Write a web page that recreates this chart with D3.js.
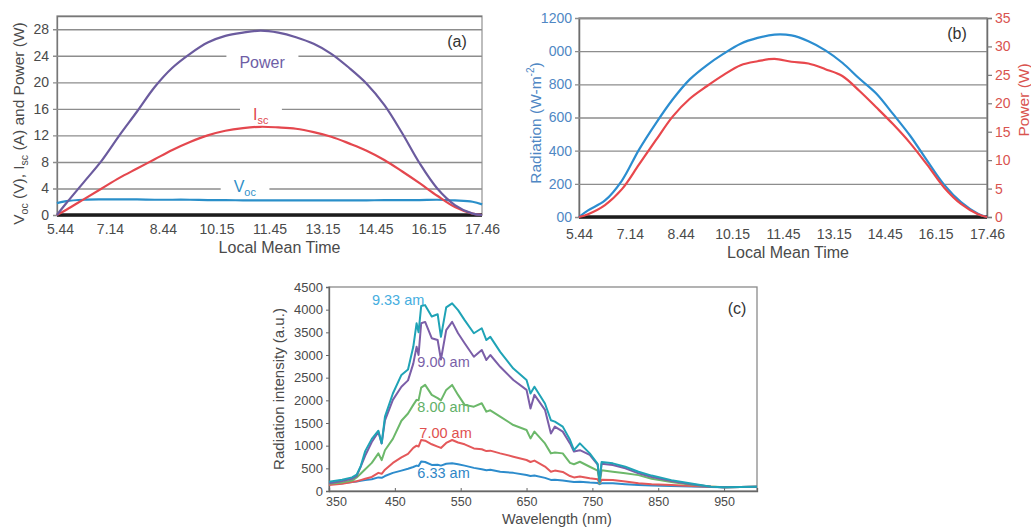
<!DOCTYPE html>
<html><head><meta charset="utf-8">
<script src="https://cdn.jsdelivr.net/npm/d3@7"></script>
<style>
body{margin:0;background:#fff}
svg{display:block}
text{font-family:"Liberation Sans",Arial,Helvetica,sans-serif}
</style>
</head><body>
<svg id="chart" width="1031" height="527"></svg>
<script>
// ---------- DATA ----------
const timeTickLabels = ["5.44","7.14","8.44","10.15","11.45","13.15","14.45","16.15","17.46"];
const timeHours = [5.73,6.0,6.5,7.0,7.5,8.0,8.5,9.0,9.5,10.0,10.5,11.0,11.5,12.0,12.5,13.0,13.5,14.0,14.5,15.0,15.5,16.0,16.5,17.0,17.5,17.77];
// panel (a)
const powerA = [0,1.8,5.0,8.2,12.0,15.6,19.3,22.2,24.3,26.0,27.0,27.5,27.8,27.5,26.8,25.8,24.3,22.2,19.8,16.6,12.4,7.8,4.0,1.5,0.2,0];
const iscA   = [0,0.8,2.4,4.0,5.6,7.0,8.4,9.8,11.0,12.0,12.7,13.1,13.3,13.2,13.0,12.5,11.8,10.8,9.7,8.3,6.6,4.8,2.9,1.2,0.2,0];
const vocA   = [1.8,2.1,2.3,2.35,2.35,2.35,2.3,2.3,2.3,2.25,2.25,2.2,2.2,2.2,2.2,2.2,2.2,2.2,2.2,2.25,2.25,2.25,2.3,2.2,2.0,1.6];
const aTicks = [0,4,8,12,16,20,24,28];
// panel (b)
const radiationB = [0,40,100,220,405,565,710,830,915,985,1045,1080,1100,1095,1060,1005,930,835,745,620,490,340,195,90,20,0];
const powerB     = [0,0.5,2.1,4.9,9.2,13.5,17.7,20.8,23.0,25.0,26.7,27.4,27.8,27.3,27.0,26.0,24.8,22.2,19.3,16.3,13.0,9.2,5.2,2.3,0.5,0];
const bLeftTicks = [0,200,400,600,800,1000,1200];
const bLeftTickLabels = ["00","200","400","600","800","000","1200"];
const bRightTicks = [0,5,10,15,20,25,30,35];
// panel (c)
const wavelengths = [350,370,385,392,398,405,415,425,430,435,447,460,470,478,483,486,490,496,506,515,520,528,537,546,556,570,582,589,595,610,630,650,656,662,678,687,693,705,716,722,731,746,758,761,764,781,800,820,840,870,900,930,950,1000];
const spec933 = [205,250,300,360,540,880,1150,1330,1050,1640,2150,2560,2680,3180,3700,3500,4080,4100,3850,3900,3400,4050,4140,3990,3770,3480,3590,3330,3400,3070,2700,2450,2150,2300,1930,1560,1530,1420,1130,900,1050,830,600,210,640,610,535,425,340,240,165,95,80,95];
const spec900 = [170,220,270,330,530,780,1080,1300,1050,1560,2010,2300,2440,2810,3180,3000,3700,3730,3370,3330,2900,3550,3730,3480,3260,2960,3110,2890,3000,2740,2450,2230,1820,2120,1790,1270,1420,1310,1050,870,900,795,580,205,600,575,500,390,310,220,150,95,80,95];
const spec800 = [160,190,230,300,380,480,620,830,680,900,1150,1550,1710,1900,2010,2000,2280,2340,2120,2050,2000,2230,2340,2120,1900,1860,1935,1750,1780,1640,1455,1345,1160,1310,1050,830,850,830,620,590,645,535,450,170,460,425,390,350,270,200,140,100,85,95];
const spec700 = [132,160,200,215,240,270,310,400,380,470,620,740,820,950,1000,980,1125,1110,1030,980,950,1060,1125,1070,1030,940,920,880,890,830,757,684,640,670,540,425,450,420,330,300,320,280,260,170,250,243,210,170,150,130,110,95,85,95];
const spec633 = [150,170,200,210,225,240,260,300,290,330,400,450,490,530,560,550,650,640,575,580,560,600,610,590,560,510,480,460,470,425,400,353,330,340,290,245,250,230,210,200,205,185,175,150,170,170,150,132,120,110,100,90,85,95];
const cTicksY = [0,500,1000,1500,2000,2500,3000,3500,4000,4500];
const cTicksX = [350,450,550,650,750,850,950];
const specNames = ["6.33 am","7.00 am","8.00 am","9.00 am","9.33 am"];

// ---------- HELPERS ----------
const svg = d3.select("#chart");
const hm = s => { const [h,m] = s.split("."); return +h + (+m)/60; };
const tickHours = timeTickLabels.map(hm);
const GRID = "#8d8d8d", FRAME = "#9a9a9a", TXT = "#4a4a4a";

function styleAxisText(g, size, color){
  g.selectAll("text").attr("font-size", size).attr("fill", color);
}
function addShifted(sel, parts, offset, scale){
  let cur = 0;
  parts.forEach(p=>{
    const target = p[1] ? offset : 0;
    const ts = sel.append("tspan").text(p[0]);
    if(target !== cur) ts.attr("dy", target - cur);
    if(p[1]) ts.attr("font-size", scale + "em");
    cur = target;
  });
}

// ---------- PANEL A ----------
{
  const A = {l:57, r:482, t:16, b:215};
  const x = d3.scaleLinear().domain([hm("5.44"), hm("17.46")]).range([A.l, A.r]);
  const y = d3.scaleLinear().domain([0,30]).range([A.b, A.t]);
  const g = svg.append("g");
  g.append("rect").attr("x",A.l).attr("y",A.t).attr("width",A.r-A.l).attr("height",A.b-A.t)
    .attr("fill","none").attr("stroke",FRAME).attr("stroke-width",1.3);
  const ya = g.append("g").attr("transform",`translate(${A.l},0)`)
    .call(d3.axisLeft(y).tickValues(aTicks).tickSize(-(A.r-A.l)).tickPadding(8));
  ya.select(".domain").attr("stroke","#777").attr("stroke-width",1.3);
  ya.selectAll(".tick line").attr("x1",-4).attr("stroke",GRID).attr("stroke-width",1.4);
  styleAxisText(ya, 14, TXT);
  const xa = g.append("g").attr("transform",`translate(0,${A.b})`)
    .call(d3.axisBottom(x).tickValues(tickHours).tickFormat((d,i)=>timeTickLabels[i]).tickSize(0).tickPadding(9));
  xa.select(".domain").remove();
  styleAxisText(xa, 14, TXT);
  xa.selectAll("text").attr("dx",(d,i)=> i===0 ? 3 : 0);
  const labels = [
    {t:[["Power"]], h:11.54, v:22.1, c:"#6e5ea6"},
    {t:[["I"],["sc",1]], h:11.5, v:14.3, c:"#e0474f"},
    {t:[["V"],["oc",1]], h:11.05, v:3.47, c:"#2f8fc8"}
  ];
  labels.forEach(L=>{
    const tg = g.append("g");
    const tx = tg.append("text").attr("x",x(L.h)).attr("y",y(L.v)).attr("text-anchor","middle")
      .attr("font-size",16).attr("fill",L.c);
    addShifted(tx, L.t, 4, 0.68);
    const bb = tx.node().getBBox();
    tg.insert("rect","text").attr("x",bb.x-13).attr("y",bb.y-2).attr("width",bb.width+26).attr("height",bb.height+2).attr("fill","#fff");
  });
  g.append("line").attr("x1",A.l).attr("x2",A.r).attr("y1",y(0)).attr("y2",y(0)).attr("stroke","#1c1c1c").attr("stroke-width",3.5);
  const line = arr => d3.line().x((d,i)=>x(timeHours[i])).y(d=>y(d)).curve(d3.curveCatmullRom)(arr);
  [[vocA,"#2a8fc9"],[iscA,"#e4474e"],[powerA,"#6b5b9e"]].forEach(([arr,c])=>{
    g.append("path").attr("d",line(arr)).attr("fill","none").attr("stroke",c).attr("stroke-width",2.2);
  });
  g.append("text").attr("x",A.r-25).attr("y",A.t+31).attr("text-anchor","middle").attr("font-size",16).attr("fill","#333").text("(a)");
  g.append("text").attr("x",(A.l+A.r)/2+10).attr("y",253).attr("text-anchor","middle").attr("font-size",16).attr("fill",TXT).text("Local Mean Time");
  const yt = g.append("text").attr("transform",`translate(24,${(A.t+A.b)/2+8}) rotate(-90)`).attr("text-anchor","middle")
    .attr("font-size",15.5).attr("fill",TXT);
  addShifted(yt, [["V"],["oc",1],[" (V), I"],["sc",1],[" (A) and Power (W)"]], 4, 0.68);
}

// ---------- PANEL B ----------
{
  const B = {l:579, r:987, t:18, b:217};
  const x = d3.scaleLinear().domain([hm("5.44"), hm("17.46")]).range([B.l, B.r]);
  const yL = d3.scaleLinear().domain([0,1200]).range([B.b, B.t]);
  const yR = d3.scaleLinear().domain([0,35]).range([B.b, B.t]);
  const g = svg.append("g");
  g.append("rect").attr("x",B.l).attr("y",B.t).attr("width",B.r-B.l).attr("height",B.b-B.t)
    .attr("fill","none").attr("stroke",FRAME).attr("stroke-width",1.3);
  const ya = g.append("g").attr("transform",`translate(${B.l},0)`)
    .call(d3.axisLeft(yL).tickValues(bLeftTicks).tickFormat((d,i)=>bLeftTickLabels[i]).tickSize(-(B.r-B.l)).tickPadding(7));
  ya.select(".domain").attr("stroke","#6e6e6e").attr("stroke-width",1.5);
  ya.selectAll(".tick line").attr("x1",-4).attr("stroke",GRID).attr("stroke-width",1.4);
  styleAxisText(ya, 14, "#4f87c4");
  const yra = g.append("g").attr("transform",`translate(${B.r},0)`)
    .call(d3.axisRight(yR).tickValues(bRightTicks).tickSize(5).tickPadding(3));
  yra.select(".domain").attr("stroke","#6e6e6e").attr("stroke-width",1.5);
  yra.selectAll(".tick line").attr("stroke","#777").attr("stroke-width",1.2);
  styleAxisText(yra, 14, "#d9534f");
  const xa = g.append("g").attr("transform",`translate(0,${B.b})`)
    .call(d3.axisBottom(x).tickValues(tickHours).tickFormat((d,i)=>timeTickLabels[i]).tickSize(0).tickPadding(12));
  xa.select(".domain").remove();
  styleAxisText(xa, 14, TXT);
  g.append("line").attr("x1",B.l).attr("x2",B.r).attr("y1",B.b).attr("y2",B.b).attr("stroke","#1c1c1c").attr("stroke-width",3.5);
  const lineL = d3.line().x((d,i)=>x(timeHours[i])).y(d=>yL(d)).curve(d3.curveCatmullRom);
  const lineR = d3.line().x((d,i)=>x(timeHours[i])).y(d=>yR(d)).curve(d3.curveCatmullRom);
  g.append("path").attr("d",lineL(radiationB)).attr("fill","none").attr("stroke","#2b8dd0").attr("stroke-width",2.2);
  g.append("path").attr("d",lineR(powerB)).attr("fill","none").attr("stroke","#e8474c").attr("stroke-width",2.2);
  g.append("text").attr("x",B.r-30).attr("y",B.t+21).attr("text-anchor","middle").attr("font-size",16).attr("fill","#333").text("(b)");
  g.append("text").attr("x",(B.l+B.r)/2+5).attr("y",258).attr("text-anchor","middle").attr("font-size",16).attr("fill",TXT).text("Local Mean Time");
  const yt = g.append("text").attr("transform",`translate(541,123) rotate(-90)`).attr("text-anchor","middle")
    .attr("font-size",15.5).attr("fill","#4f87c4");
  addShifted(yt, [["Radiation (W-m"],["-2",1],[")"]], -7, 0.65);
  g.append("text").attr("transform",`translate(1029,100) rotate(-90)`).attr("text-anchor","middle")
    .attr("font-size",15.5).attr("fill","#d9534f").text("Power (W)");
}

// ---------- PANEL C ----------
{
  const C = {l:329, r:757, t:287, b:491};
  const x = d3.scaleLinear().domain([350,1000]).range([C.l, C.r]);
  const y = d3.scaleLinear().domain([0,4500]).range([C.b, C.t]);
  const g = svg.append("g");
  g.append("rect").attr("x",C.l).attr("y",C.t).attr("width",C.r-C.l).attr("height",C.b-C.t)
    .attr("fill","none").attr("stroke","#8a8a8a").attr("stroke-width",1.3);
  const ya = g.append("g").attr("transform",`translate(${C.l},0)`)
    .call(d3.axisLeft(y).tickValues(cTicksY).tickFormat(d3.format("d")).tickSize(3).tickPadding(3));
  ya.select(".domain").attr("stroke","#666").attr("stroke-width",1.3);
  ya.selectAll(".tick line").attr("stroke","#666");
  styleAxisText(ya, 13, TXT);
  const xa = g.append("g").attr("transform",`translate(0,${C.b})`)
    .call(d3.axisBottom(x).tickValues(cTicksX).tickFormat(d3.format("d")).tickSize(-3).tickPadding(6));
  xa.select(".domain").attr("stroke","#666").attr("stroke-width",1.3);
  xa.selectAll(".tick line").attr("stroke","#666");
  styleAxisText(xa, 12.5, TXT);
  xa.selectAll("text").attr("dx",(d,i)=> i===0 ? 7 : 0);
  const specLabels = [
    {n:0, w:524, v:397, c:"#2f86c6"},
    {n:1, w:527, v:1280, c:"#e0504f"},
    {n:2, w:524, v:1860, c:"#62b067"},
    {n:3, w:524, v:2852, c:"#7a5fa8"},
    {n:4, w:455, v:4213, c:"#45aee0"}
  ];
  specLabels.forEach(L=>{
    g.append("text").attr("x",x(L.w)).attr("y",y(L.v)).attr("dy","0.35em").attr("text-anchor","middle")
      .attr("font-size",14.5).attr("fill",L.c).text(specNames[L.n]);
  });
  const line = d3.line().x((d,i)=>x(wavelengths[i])).y(d=>y(d));
  [[spec633,"#2d8ccc"],[spec700,"#e4585a"],[spec800,"#6cb86a"],[spec900,"#7b5ea8"],[spec933,"#1fa3b6"]].forEach(([arr,c])=>{
    g.append("path").attr("d",line(arr)).attr("fill","none").attr("stroke",c).attr("stroke-width",2).attr("stroke-linejoin","round");
  });
  g.append("text").attr("x",C.r-20).attr("y",C.t+27).attr("text-anchor","middle").attr("font-size",16).attr("fill","#333").text("(c)");
  g.append("text").attr("x",557).attr("y",523.5).attr("text-anchor","middle").attr("font-size",14.5).attr("fill",TXT).text("Wavelength (nm)");
  g.append("text").attr("transform",`translate(284,${(C.t+C.b)/2}) rotate(-90)`).attr("text-anchor","middle")
    .attr("font-size",15).attr("fill",TXT).text("Radiation intensity (a.u.)");
}
</script>
</body></html>
